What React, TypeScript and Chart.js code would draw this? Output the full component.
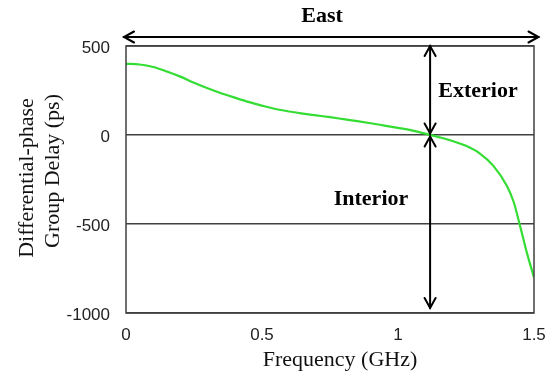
import React, { useEffect, useRef } from "react";
import { Chart, registerables } from "chart.js";

Chart.register(...registerables);

const freqGHz = [0, 0.05, 0.1, 0.15, 0.2, 0.25, 0.3, 0.35, 0.4, 0.45, 0.5, 0.55, 0.6, 0.65, 0.7, 0.75, 0.8, 0.85, 0.9, 0.95, 1.0, 1.05, 1.1, 1.15, 1.2, 1.25, 1.3, 1.35, 1.4, 1.425, 1.45, 1.475, 1.5];
const delayPs = [400, 396, 382, 357, 328, 294, 263, 235, 210, 186, 165, 146, 132, 120, 110, 100, 89, 78, 66, 53, 40, 26, 8, -12, -34, -61, -103, -172, -285, -375, -518, -668, -800];

const yTicks = [500, 0, -500, -1000];
const xTicks = [0, 0.5, 1, 1.5];
const crossFreq = 1.118;

const titleX = "Frequency (GHz)";
const titleY = ["Differential-phase", "Group Delay (ps)"];
const labelEast = "East";
const labelExterior = "Exterior";
const labelInterior = "Interior";

function chevron(ctx: CanvasRenderingContext2D, tx: number, ty: number, dx: number, dy: number) {
  const len = 10;
  const half = 5.5;
  const bx = tx - dx * len;
  const by = ty - dy * len;
  const px = -dy;
  const py = dx;
  ctx.beginPath();
  ctx.moveTo(bx + px * half, by + py * half);
  ctx.lineTo(tx, ty);
  ctx.lineTo(bx - px * half, by - py * half);
  ctx.stroke();
}

const annotations = {
  id: "annotations",
  afterDraw(chart: any) {
    const ctx = chart.ctx as CanvasRenderingContext2D;
    const a = chart.chartArea;
    const xs = chart.scales.x;
    const ys = chart.scales.y;
    ctx.save();
    ctx.strokeStyle = "#404040";
    ctx.lineWidth = 1.5;
    ctx.strokeRect(a.left, a.top, a.right - a.left, a.bottom - a.top);

    ctx.strokeStyle = "#000";
    ctx.lineWidth = 2;
    ctx.lineCap = "round";
    ctx.lineJoin = "miter";
    const ey = 37;
    const exL = a.left - 2;
    const exR = a.right + 4.5;
    ctx.beginPath();
    ctx.moveTo(exL, ey);
    ctx.lineTo(exR, ey);
    ctx.stroke();
    chevron(ctx, exL, ey, -1, 0);
    chevron(ctx, exR, ey, 1, 0);

    const vx = xs.getPixelForValue(crossFreq);
    const y0 = ys.getPixelForValue(0);
    const yTop = a.top;
    const yBot = a.bottom - 5;
    ctx.beginPath();
    ctx.moveTo(vx, yTop);
    ctx.lineTo(vx, y0 - 1);
    ctx.stroke();
    chevron(ctx, vx, yTop, 0, -1);
    chevron(ctx, vx, y0 - 1.5, 0, 1);
    ctx.beginPath();
    ctx.moveTo(vx, y0 + 1.5);
    ctx.lineTo(vx, yBot);
    ctx.stroke();
    chevron(ctx, vx, y0 + 1.5, 0, -1);
    chevron(ctx, vx, yBot, 0, 1);

    ctx.fillStyle = "#000";
    ctx.textAlign = "center";
    ctx.textBaseline = "middle";
    ctx.font = "bold 22px 'Liberation Serif', 'Times New Roman', serif";
    ctx.fillText(labelEast, 322, 16);
    ctx.fillText(labelExterior, 478, 91);
    ctx.fillText(labelInterior, 371, 199);

    ctx.font = "22px 'Liberation Serif', 'Times New Roman', serif";
    ctx.fillStyle = "#111";
    ctx.fillText(titleX, 340, 360);
    ctx.save();
    ctx.translate(27, 178);
    ctx.rotate(-Math.PI / 2);
    ctx.fillText(titleY[0], 0, 0);
    ctx.restore();
    ctx.save();
    ctx.translate(53, 171);
    ctx.rotate(-Math.PI / 2);
    ctx.fillText(titleY[1], 0, 0);
    ctx.restore();
    ctx.restore();
  },
};

export default function App() {
  const ref = useRef<HTMLCanvasElement>(null);
  useEffect(() => {
    if (!ref.current) return;
    const chart = new Chart(ref.current, {
      type: "line",
      data: {
        datasets: [
          {
            data: freqGHz.map((f, i) => ({ x: f, y: delayPs[i] })),
            borderColor: "#33dd33",
            borderWidth: 2.2,
            pointRadius: 0,
            cubicInterpolationMode: "monotone",
            fill: false,
          },
        ],
      },
      options: {
        responsive: false,
        animation: false,
        devicePixelRatio: 1,
        layout: { padding: { left: 0, top: 46, right: 25, bottom: 0 } },
        plugins: { legend: { display: false }, tooltip: { enabled: false } },
        scales: {
          x: {
            type: "linear",
            min: 0,
            max: 1.5,
            afterBuildTicks: (s: any) => {
              s.ticks = xTicks.map((v) => ({ value: v }));
            },
            afterFit: (s: any) => {
              s.height = 67;
            },
            grid: { display: false, drawTicks: false },
            border: { display: false },
            ticks: {
              padding: 12,
              color: "#222",
              font: { family: "'Liberation Sans', Arial, sans-serif", size: 17 },
              maxRotation: 0,
              callback: (v: any) => String(v),
            },
          },
          y: {
            type: "linear",
            min: -1000,
            max: 500,
            afterBuildTicks: (s: any) => {
              s.ticks = yTicks.map((v) => ({ value: v }));
            },
            afterFit: (s: any) => {
              s.width = 126;
            },
            grid: { color: "#404040", lineWidth: 1.5, drawTicks: false },
            border: { display: false },
            ticks: {
              padding: 16,
              labelOffset: 2,
              color: "#222",
              font: { family: "'Liberation Sans', Arial, sans-serif", size: 17 },
              callback: (v: any) => String(v),
            },
          },
        },
      },
      plugins: [annotations],
    });
    return () => chart.destroy();
  }, []);
  return (
    <div style={{ position: "absolute", left: 0, top: 0, width: 559, height: 380, background: "#fff" }}>
      <canvas ref={ref} width={559} height={380} />
    </div>
  );
}
